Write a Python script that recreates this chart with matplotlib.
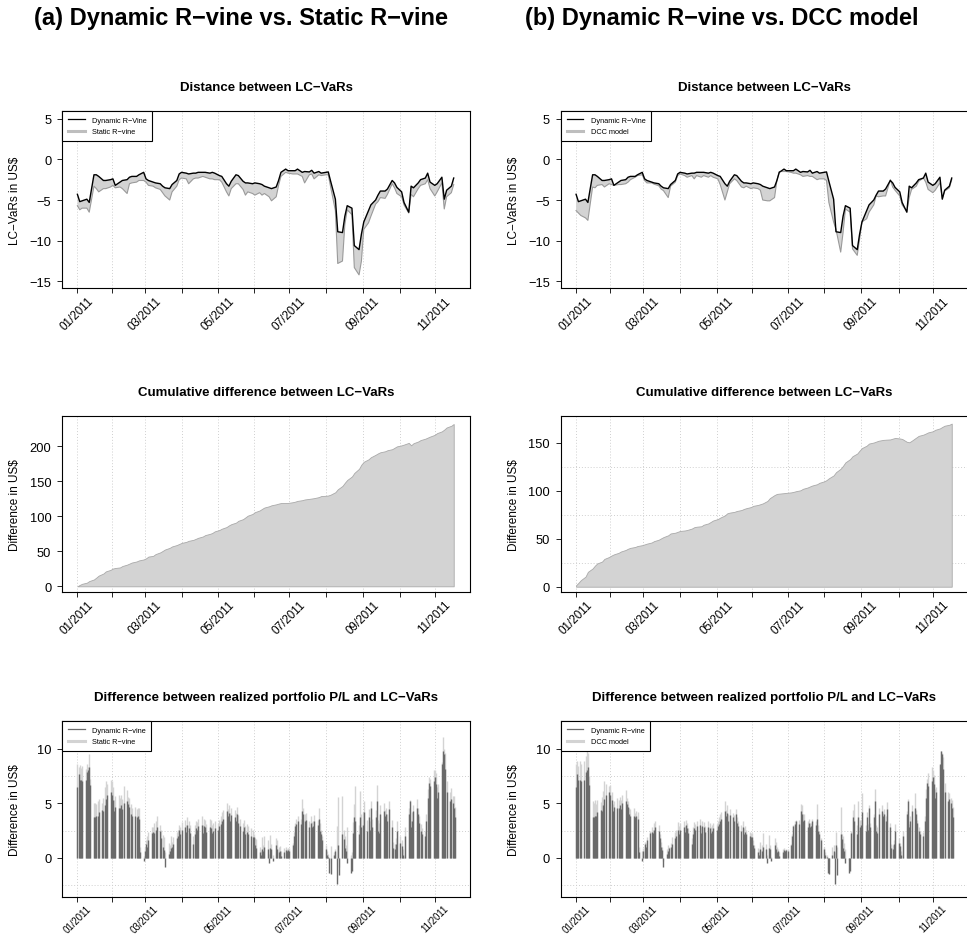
import os
import numpy as np
import pandas as pd
import matplotlib
matplotlib.use('Agg')
import matplotlib.pyplot as plt
import matplotlib.dates as mdates
from matplotlib.lines import Line2D
from matplotlib import font_manager as fm

plt.rcParams['font.family'] = ['Liberation Sans', 'DejaVu Sans']

# ---------------- data ----------------
start_date, end_date = '2011-01-03', '2011-11-18'
days = pd.bdate_range(start_date, end_date)          # daily (bars)
line_days = days[::2]                                # every 2nd trading day (lines)
month_ticks = pd.date_range('2011-01-01', '2011-11-30', freq='BMS')

# LC-VaRs (every second trading day)
dyn_line = [-4.3, -5.2, -5.1, -4.9, -5.3, -1.9, -1.9, -2.1, -2.6, -2.6,
            -2.5, -2.4, -3.2, -2.8, -2.6, -2.5, -2.2, -2.1, -2.1, -1.9,
            -1.6, -2.4, -2.6, -2.8, -2.9, -3.0, -3.3, -3.5, -3.6, -3.1,
            -2.6, -1.8, -1.6, -1.7, -1.8, -1.7, -1.7, -1.6, -1.6, -1.6,
            -1.7, -1.6, -1.7, -2.0, -2.1, -3.0, -3.3, -2.7, -1.9, -2.0,
            -2.7, -2.9, -2.9, -3.0, -2.9, -3.0, -3.1, -3.3, -3.5, -3.6,
            -3.4, -2.6, -1.6, -1.2, -1.4, -1.4, -1.4, -1.2, -1.6, -1.5,
            -1.55, -1.35, -1.7, -1.5, -1.7, -1.6, -1.55, -2.7, -4.9, -8.9,
            -9.0, -7.0, -5.7, -6.0, -10.6, -11.1, -9.2, -7.7, -6.3, -5.6,
            -5.0, -4.4, -3.9, -3.9, -3.65, -2.6, -2.9, -3.45, -4.0, -5.3,
            -6.5, -3.3, -3.5, -2.9, -2.5, -2.3, -1.7, -2.8, -3.2, -3.0,
            -2.2, -4.9, -3.8, -3.3, -2.3]
static_line = [-5.7, -6.2, -6.0, -6.0, -6.5, -3.3, -3.6, -4.0, -3.6, -3.6,
               -3.4, -3.2, -3.5, -3.4, -3.6, -4.2, -3.0, -2.9, -2.8, -2.6,
               -2.6, -2.8, -3.2, -3.3, -3.5, -3.7, -4.1, -4.5, -5.0, -4.0,
               -3.3, -2.5, -2.3, -2.4, -3.0, -2.4, -2.3, -2.3, -2.1, -2.2,
               -2.4, -2.4, -2.5, -2.5, -2.8, -4.0, -4.5, -3.6, -3.0, -3.0,
               -3.7, -4.4, -4.0, -4.2, -4.4, -4.1, -4.4, -4.2, -4.6, -5.1,
               -4.6, -3.2, -2.1, -1.6, -1.7, -1.8, -1.8, -1.8, -2.1, -2.9,
               -1.9, -1.8, -2.4, -1.9, -2.0, -1.9, -1.9, -3.4, -6.3, -12.8,
               -12.5, -8.0, -6.2, -6.8, -13.3, -14.2, -12.5, -8.6, -7.8, -7.0,
               -5.5, -5.2, -4.7, -4.8, -4.3, -3.0, -3.5, -4.2, -4.6, -5.6,
               -6.6, -4.3, -4.6, -3.6, -3.2, -3.0, -2.5, -3.6, -4.5, -4.0,
               -2.9, -6.1, -4.6, -4.1, -3.1]
dcc_line = [-6.3, -6.6, -6.9, -7.2, -7.5, -3.4, -3.5, -3.2, -3.1, -3.4,
            -3.0, -3.1, -3.2, -3.1, -3.1, -3.0, -2.8, -2.5, -2.2, -2.0,
            -1.9, -2.6, -2.9, -2.9, -3.05, -3.25, -3.65, -3.85, -4.7, -3.3,
            -2.8, -2.0, -1.8, -2.0, -2.2, -2.0, -2.4, -2.0, -2.2, -2.0,
            -2.2, -2.0, -2.2, -2.4, -3.1, -5.0, -4.0, -3.0, -2.4, -2.6,
            -3.4, -3.5, -3.3, -3.6, -3.5, -3.6, -3.8, -5.0, -5.1, -5.1,
            -4.7, -2.6, -1.5, -1.5, -1.5, -1.6, -1.7, -1.7, -1.9, -2.1,
            -2.0, -2.1, -2.1, -2.5, -2.4, -2.4, -2.6, -5.3, -7.7, -8.6,
            -11.4, -9.0, -6.1, -6.5, -11.0, -11.8, -9.8, -7.7, -7.3, -6.5,
            -5.6, -4.5, -4.6, -4.5, -4.5, -2.5, -3.4, -3.8, -4.5, -5.6,
            -6.4, -4.7, -3.7, -3.3, -2.7, -2.3, -2.8, -3.7, -4.1, -3.8,
            -2.9, -4.8, -3.9, -3.5, -2.5]

# cumulative differences (every second trading day)
cum_static = [0, 2, 3.6, 5.2, 7.5, 9.8, 12.5, 15.3, 18.3, 21.3,
              23.5, 25.4, 26.2, 27, 29, 31, 32.5, 34, 35.5, 37,
              38.4, 40, 42.5, 43.5, 46, 48.5, 50.5, 52.6, 55, 57,
              59, 60.5, 62, 63.5, 65, 66.4, 67.8, 69.3, 71.2, 73.2,
              75, 76.2, 78.5, 80.5, 82.3, 84.7, 87, 88.8, 91, 93.6,
              96, 98.5, 101, 103.4, 106, 108.4, 110.6, 112.6, 114.4, 115.8,
              117.2, 118.2, 119, 119, 119.2, 120.2, 121, 122.1, 123.1, 124.1,
              125, 125.5, 126, 127.5, 129, 129.4, 129.8, 131, 134.5, 138.6,
              143.5, 148, 152, 157, 162, 168, 174, 178, 181.5, 184.5,
              188, 190, 191.6, 193, 194.5, 196, 198, 200, 201.5, 202.6,
              205, 201.5, 204.5, 207, 209, 211, 212.5, 214, 216.5, 219,
              221.5, 224, 227, 229.5, 232]
cum_dcc = [1.5, 4, 6.8, 10.5, 15.5, 19, 22, 24.3, 26.2, 29,
           31, 32.5, 33.7, 35.3, 36.7, 38.3, 39.6, 40.5, 41.4, 42.4,
           43.3, 44.1, 44.9, 46.1, 47.5, 49, 50.4, 51.7, 53.6, 55.5,
           56.3, 57.2, 58.1, 58.6, 59.1, 60.6, 62, 62.5, 63, 64.6,
           66, 67.5, 69, 70.5, 72, 74.3, 76.5, 77.2, 78, 78.9,
           79.9, 81, 81.8, 83, 84.3, 85.2, 86, 86.8, 89.4, 92.3,
           95.5, 96.7, 97, 97.5, 97.8, 98.3, 98.8, 99.5, 100.5, 102,
           103.4, 104.5, 105.5, 106.8, 108.3, 109.8, 111.1, 113, 116, 119.3,
           123, 126, 129.6, 133, 136, 138.8, 141.8, 144.5, 147, 149.2,
           150.3, 151.2, 152.1, 153, 153.2, 153.5, 154.3, 155, 154.5, 154,
           151, 150.5, 152, 155.5, 157.2, 158.5, 159.6, 160.8, 162, 163.5,
           165, 166.5, 167.8, 168.8, 170]

# realized P/L minus LC-VaR (daily)
dyn_bar = [6.5, 7.7, 7.1, 7.1, 7.0, 7.1, 7.9, 8.0, 8.3, 6.7, 3.7, 3.7, 3.8, 3.8, 4.2, 4.4, 4.3, 4.8, 5.4, 5.8, 6.0,
           5.8, 5.3, 4.3, 4.7, 4.6, 4.6, 4.8, 4.5, 5.0, 5.2, 4.9, 4.7, 4.0, 3.8, 3.8, 3.7, 3.8, 3.6, 0.5, -0.3,
           0.6, 1.3, 1.0, 1.6, 2.3, 2.4, 2.3, 2.6, 2.8, 2.5, 1.8, 1.0, 0.7, -0.8, 0.4, 0.6, 0.9, 1.0, 1.3, 1.8, 2.0, 2.6, 2.2,
           2.6, 2.8, 2.4, 3.0, 2.7, 2.3, 1.3, 2.2, 2.7, 2.6, 2.9, 3.0, 2.3, 2.9, 2.8, 2.4, 2.8, 2.7, 2.3, 2.5, 2.7,
           2.6, 2.9, 3.1, 3.4, 3.6, 4.3, 3.8, 4.1, 3.4, 3.9, 3.7, 3.4, 4.0, 3.2, 2.9, 2.5, 2.8, 2.2, 2.4, 2.2, 2.0, 1.9,
           1.9, 1.2, 0.9, 0.5, 0.3, 0.8, 0.6, 1.0, 0.8, -0.5, 0.9, 0.8, -0.3, 1.2, 0.8, 0.5, 0.6, 0.2, 0.5, 0.7, 0.6, 0.7,
           0.6, 1.2, 2.0, 2.9, 3.1, 3.4, 3.1, 4.3, 4.0, 3.4, 3.5, 2.8, 3.2, 2.8, 2.9, 3.4, 3.0, 3.6, 2.5, 2.2, 1.6,
           0.8, 0.3, 0.1, -1.35, -1.5, 0.3, 0.6, -2.4, 1.2, -1.6, 2.2, 1.7, 0.9, 0.6, -0.5, -1.4, -1.2, 2.3, 3.7, 3.4, 2.2, 3.7, 2.8,
           3.0, 4.2, 2.5, 3.7, 2.6, 4.6, 2.8, 3.7, 5.2, 2.5, 2.3, 4.0, 4.3, 3.8, 4.0, 3.4, 4.5, 2.8, 0.95, 0.8, 1.25, 2.5,
           1.4, 1.1, 0.3, -0.05, 2.0, 4.0, 5.2, 2.8, 3.4, 4.3, 4.6, 4.0, 3.2, 2.5, 2.2, 2.0, 3.4, 5.5, 6.9, 6.6, 7.0,
           7.4, 6.8, 5.5, 6.0, 8.6, 9.8, 9.5, 8.1, 6.0, 5.2, 5.4, 5.0, 4.6, 3.7]
static_bar = [8.6, 8.3, 8.5, 8.2, 8.4, 8.1, 8.6, 8.3, 9.5, 7.2, 5.0, 5.0, 4.9, 5.2, 5.4, 5.0, 5.5, 6.5, 7.0, 6.8, 7.1,
              7.0, 6.5, 5.3, 5.7, 5.8, 5.5, 5.8, 5.4, 6.6, 6.2, 5.6, 5.5, 4.9, 4.6, 4.7, 4.5, 4.6, 4.6, 1.0, 0.2,
              1.0, 1.6, 2.0, 2.4, 2.8, 2.8, 3.2, 3.4, 3.85, 3.0, 2.6, 2.1, 1.9, 0.5, 1.4, 1.2, 2.0, 1.5, 1.9, 2.4, 2.6, 3.0, 2.8,
              3.3, 3.5, 3.0, 3.7, 3.4, 3.0, 2.0, 3.0, 3.4, 3.3, 3.6, 3.8, 3.0, 3.6, 3.5, 3.1, 3.6, 3.5, 3.0, 3.2, 3.4,
              3.2, 3.5, 3.8, 4.2, 4.4, 5.0, 4.5, 4.8, 4.1, 4.6, 4.4, 4.1, 4.7, 3.9, 3.6, 3.2, 3.5, 2.9, 3.1, 2.9, 2.7, 2.6,
              2.2, 1.8, 1.7, 1.0, 0.6, 1.9, 1.2, 2.0, 1.6, 0.4, 2.1, 1.3, 0.3, 1.8, 1.6, 1.0, 1.1, 0.6, 0.9, 1.0, 0.8, 0.9,
              0.9, 1.4, 2.4, 3.2, 3.6, 3.8, 3.6, 5.4, 4.6, 4.0, 4.1, 3.4, 3.8, 3.3, 3.4, 3.9, 3.5, 4.6, 3.2, 2.6, 2.0,
              1.2, 0.6, 0.4, -0.5, 1.1, 0.5, 0.8, 2.9, 5.6, -0.8, 5.7, 2.6, 2.0, 1.2, 2.8, 0.3, 0.5, 3.3, 4.9, 6.6, 3.0, 6.1, 4.0,
              4.2, 5.2, 3.5, 4.5, 3.4, 5.2, 3.6, 4.4, 6.7, 3.5, 3.2, 4.8, 5.0, 4.4, 4.6, 4.0, 5.2, 3.5, 1.5, 1.3, 1.8, 3.4,
              2.0, 1.6, 0.8, 0.1, 2.8, 4.6, 5.3, 3.4, 4.2, 4.8, 5.4, 4.6, 3.8, 3.1, 2.7, 2.5, 4.0, 6.3, 7.4, 7.2, 8.0,
              8.0, 7.8, 6.5, 6.8, 8.8, 11.1, 10.0, 9.6, 7.0, 6.0, 6.4, 5.7, 5.7, 4.7]
dcc_bar = [8.6, 8.9, 8.4, 8.9, 8.6, 8.9, 9.3, 10.2, 9.6, 7.5, 5.2, 5.0, 5.3, 4.9, 5.3, 5.1, 5.6, 6.1, 7.0, 6.8, 6.6,
           6.7, 6.0, 4.9, 5.2, 5.5, 5.3, 5.6, 5.3, 5.8, 6.2, 5.5, 5.2, 4.6, 4.5, 4.6, 4.1, 4.3, 4.2, 1.0, 0.6,
           0.9, 1.5, 1.4, 1.9, 2.5, 2.8, 2.6, 3.2, 3.4, 3.0, 2.2, 1.5, 1.0, -0.3, 0.8, 1.2, 1.0, 1.4, 1.9, 2.4, 2.6, 3.3, 2.9,
           3.2, 3.4, 2.9, 3.5, 3.2, 2.7, 1.8, 2.8, 3.3, 3.1, 3.4, 3.6, 2.8, 3.4, 3.3, 2.9, 3.4, 3.2, 2.8, 3.0, 3.2,
           3.1, 3.4, 3.7, 4.0, 4.2, 5.2, 4.4, 4.8, 4.0, 4.5, 4.1, 3.9, 4.5, 3.7, 3.4, 3.0, 3.4, 2.7, 2.9, 2.6, 2.4, 2.3,
           2.3, 1.6, 1.2, 0.9, 0.6, 1.5, 1.2, 2.3, 1.3, 0.3, 2.1, 1.2, 0.1, 1.8, 1.5, 1.0, 0.8, 0.5, 0.8, 0.9, 0.7, 0.8,
           0.8, 1.3, 2.2, 3.0, 3.4, 3.5, 3.5, 4.9, 4.8, 4.0, 4.0, 3.4, 3.6, 3.2, 3.2, 3.6, 3.4, 4.9, 3.0, 2.5, 1.8,
           1.0, 0.5, 0.3, -1.0, -0.8, 1.0, 1.2, 0.5, 2.4, 1.0, 4.7, 2.2, 2.0, 1.4, 0.8, -0.2, 0.0, 2.5, 4.4, 4.9, 3.0, 5.2, 3.5,
           3.5, 5.9, 3.0, 4.2, 3.1, 4.8, 3.2, 4.0, 6.3, 3.0, 2.8, 4.6, 4.8, 4.1, 4.5, 3.8, 5.1, 3.2, 1.3, 1.2, 1.6, 3.1,
           1.8, 1.4, 0.6, 0.0, 2.5, 4.3, 5.4, 3.1, 3.8, 4.8, 5.9, 4.4, 3.5, 2.8, 2.5, 2.4, 3.8, 6.3, 7.2, 7.8, 8.3,
           8.0, 7.6, 6.3, 6.5, 8.5, 9.8, 9.6, 9.2, 6.9, 6.0, 5.9, 5.5, 5.3, 4.7]

panel_headers = ['(a) Dynamic R\u2212vine vs. Static R\u2212vine',
                 '(b) Dynamic R\u2212vine vs. DCC model']
alt_names = ['Static R\u2212vine', 'DCC model']


# ---------------- fonts ----------------
def find_bold_font():
    for path in fm.findSystemFonts():
        if os.path.basename(path).lower() == 'liberationsans-bold.ttf':
            return path
    return None


BOLD_PATH = find_bold_font()


def bold(size):
    if BOLD_PATH:
        return fm.FontProperties(fname=BOLD_PATH, size=size)
    return fm.FontProperties(family=['Roboto', 'DejaVu Sans'], weight='bold', size=size)


# ---------------- figure ----------------
W, H = 967, 937
fig = plt.figure(figsize=(W / 100, H / 100), dpi=100)

x_day = mdates.date2num(days.to_pydatetime())
x_line = mdates.date2num(line_days.to_pydatetime())
x_month = mdates.date2num(month_ticks.to_pydatetime())
month_labels = [d.strftime('%m/%Y') if d.month % 2 == 1 else '' for d in month_ticks]
span = x_day[-1] - x_day[0]
xlim = (x_day[0] - 0.04 * span, x_day[-1] + 0.04 * span)

col_left = [62.3 / W, 561 / W]
col_w = [407.7 / W, 407 / W]
row_tb = [(112.3, 289.3), (417.3, 592.7), (722.3, 898.3)]
xlabel_size = [8.4, 8.4, 6.9]     # bottom row slightly smaller so it fits on the page
xlabel_pad = [1.2, 1.2, 0.6]
header_x = [241 / W, 722 / W]

GRID = dict(color='#CFCFCF', linestyle=(0, (1, 2)), linewidth=0.7)


def make_ax(col, row):
    top, bot = row_tb[row]
    ax = fig.add_axes([col_left[col], 1 - bot / H, col_w[col], (bot - top) / H])
    ax.set_xlim(*xlim)
    ax.set_xticks(x_month)
    ax.set_xticklabels(month_labels, rotation=45, ha='center', va='top',
                       fontsize=xlabel_size[row])
    ax.tick_params(axis='x', direction='out', length=3.4, width=0.6, pad=xlabel_pad[row])
    ax.tick_params(axis='y', direction='out', length=3.4, width=0.6, pad=4.5, labelsize=9.3)
    ax.tick_params(axis='y', which='minor', length=0)
    for s in ax.spines.values():
        s.set_linewidth(0.8)
        s.set_color('black')
    ax.grid(axis='x', which='major', **GRID)
    ax.set_axisbelow(True)
    ax.yaxis.set_label_coords(-0.101, 0.5)
    return ax


def legend(ax, labels, colors, widths):
    handles = [Line2D([], [], color=c, lw=w) for c, w in zip(colors, widths)]
    leg = ax.legend(handles, labels, loc='upper left', bbox_to_anchor=(0, 1),
                    borderaxespad=0, fontsize=5.3, frameon=True, fancybox=False,
                    edgecolor='black', framealpha=1, handlelength=2.3,
                    handletextpad=1.0, borderpad=0.75, labelspacing=0.55)
    leg.get_frame().set_linewidth(0.8)


alt_lines = [static_line, dcc_line]
alt_cum = [cum_static, cum_dcc]
alt_bars = [static_bar, dcc_bar]
cum_lims = [(-7.7, 243), (-5.2, 177.6)]
cum_ticks = [[0, 50, 100, 150, 200], [0, 50, 100, 150]]
cum_grid = [[0, 50, 100, 150, 200], [0, 25, 50, 75, 100, 125, 150]]


def title(ax, text):
    ax.set_title(text, fontproperties=bold(9.5), pad=15.5)


for c in range(2):
    fig.text(header_x[c], 1 - 18 / H, panel_headers[c], ha='center', va='center',
             fontproperties=bold(17))

    # --- panel 1: LC-VaRs ---
    ax = make_ax(c, 0)
    ax.fill_between(x_line, dyn_line, alt_lines[c], facecolor='#D3D3D3', edgecolor='none')
    ax.plot(x_line, alt_lines[c], color='#9A9A9A', lw=0.8)
    ax.plot(x_line, dyn_line, color='black', lw=1.0)
    ax.set_ylim(-15.85, 5.9)
    ax.set_yticks([-15, -10, -5, 0, 5])
    ax.set_yticks([-15, -10, -5, 0, 5], minor=True)
    ax.grid(axis='y', which='minor', **GRID)
    ax.set_ylabel('LC\u2212VaRs in US$', fontsize=8.5)
    title(ax, 'Distance between LC\u2212VaRs')
    legend(ax, ['Dynamic R\u2212Vine', alt_names[c]], ['black', '#BEBEBE'], [0.9, 2.2])

    # --- panel 2: cumulative difference ---
    ax = make_ax(c, 1)
    ax.fill_between(x_line, 0, alt_cum[c], facecolor='#D3D3D3', edgecolor='#A9A9A9', linewidth=0.6)
    ax.set_ylim(*cum_lims[c])
    ax.set_yticks(cum_ticks[c])
    ax.set_yticks(cum_grid[c], minor=True)
    ax.grid(axis='y', which='minor', **GRID)
    ax.set_ylabel('Difference in US$', fontsize=8.5)
    title(ax, 'Cumulative difference between LC\u2212VaRs')

    # --- panel 3: realized P/L minus LC-VaR ---
    ax = make_ax(c, 2)
    ax.vlines(x_day, 0, alt_bars[c], colors='#D3D3D3', lw=1.0)
    ax.vlines(x_day, 0, dyn_bar, colors='#6A6A6A', lw=1.0)
    ax.set_ylim(-3.6, 12.5)
    ax.set_yticks([0, 5, 10])
    ax.set_yticks([-2.5, 0, 2.5, 5, 7.5, 10], minor=True)
    ax.grid(axis='y', which='minor', **GRID)
    ax.set_ylabel('Difference in US$', fontsize=8.5)
    title(ax, 'Difference between realized portfolio P/L and LC\u2212VaRs')
    legend(ax, ['Dynamic R\u2212vine', alt_names[c]], ['#6A6A6A', '#D3D3D3'], [0.9, 2.2])

fig.savefig('out.png', dpi=100)
